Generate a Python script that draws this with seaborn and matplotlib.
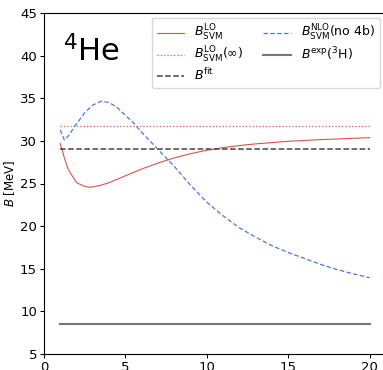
import numpy as np
import pandas as pd
import matplotlib
matplotlib.use("Agg")
import matplotlib.pyplot as plt
import seaborn as sns

# data
x_lo = [1, 1.25, 1.5, 2, 2.5, 2.75, 3, 3.5, 4, 5, 6, 7, 8, 9, 10, 11, 12, 13, 14, 15, 16, 17, 18, 19, 20]
b_lo = [29.7, 28.0, 26.6, 25.1, 24.65, 24.57, 24.6, 24.8, 25.1, 25.9, 26.7, 27.4, 28.0, 28.5, 28.9,
        29.2, 29.45, 29.65, 29.8, 29.95, 30.05, 30.15, 30.22, 30.3, 30.38]
x_nlo = [1, 1.25, 1.5, 2, 2.5, 3, 3.5, 4, 4.5, 5, 5.5, 6, 6.5, 7, 8, 9, 10, 11, 12, 13, 14, 15, 16, 17, 18, 19, 20]
b_nlo = [31.3, 30.1, 30.6, 32.0, 33.3, 34.2, 34.65, 34.5, 33.9, 33.0, 32.1, 31.0, 30.0, 29.0, 27.0, 24.8,
         22.8, 21.2, 19.8, 18.7, 17.7, 16.9, 16.2, 15.5, 14.9, 14.4, 13.95]
x_range = [1, 20]
b_lo_inf = 31.8
b_fit = 29.0
b_exp_3h = 8.5

fig = plt.figure(figsize=(3.83, 3.70), dpi=100)
ax = fig.add_axes([44/383, 16/370, 342/383, 341/370])

sns.lineplot(x=x_lo, y=b_lo, ax=ax, color="#d9534f", lw=0.8, label=r"$B^{\rm LO}_{\rm SVM}$")
sns.lineplot(x=x_range, y=[b_lo_inf]*2, ax=ax, color="#d9534f", lw=0.9, ls=":",
             label=r"$B^{\rm LO}_{\rm SVM}(\infty)$")
sns.lineplot(x=x_range, y=[b_fit]*2, ax=ax, color="#444444", lw=1.1, ls="--", label=r"$B^{\rm fit}$")
sns.lineplot(x=x_nlo, y=b_nlo, ax=ax, color="#4a74e0", lw=0.9, ls=(0, (3.5, 2)),
             label=r"$B^{\rm NLO}_{\rm SVM}$(no 4b)")
sns.lineplot(x=x_range, y=[b_exp_3h]*2, ax=ax, color="#777777", lw=1.5,
             label=r"$B^{\rm exp}(^3{\rm H})$")

ax.set_xlim(0, 21)
ax.set_ylim(5, 45)
ax.set_xticks([0, 5, 10, 15, 20])
ax.set_yticks(range(5, 46, 5))
ax.tick_params(labelsize=9.5, length=3, pad=2)
ax.set_ylabel(r"$B$ [MeV]", fontsize=8.5, labelpad=2)
ax.set_xlabel("")

ax.text(0.055, 0.935, r"$^4$He", transform=ax.transAxes, fontsize=22, va="top", ha="left")

ax.legend(ncol=2, fontsize=9, loc="upper right", bbox_to_anchor=(0.9825, 0.985), borderaxespad=0,
          handlelength=2.2, columnspacing=1.6, labelspacing=0.15, borderpad=0.4, handletextpad=0.8)

fig.savefig("out.png", dpi=100)
